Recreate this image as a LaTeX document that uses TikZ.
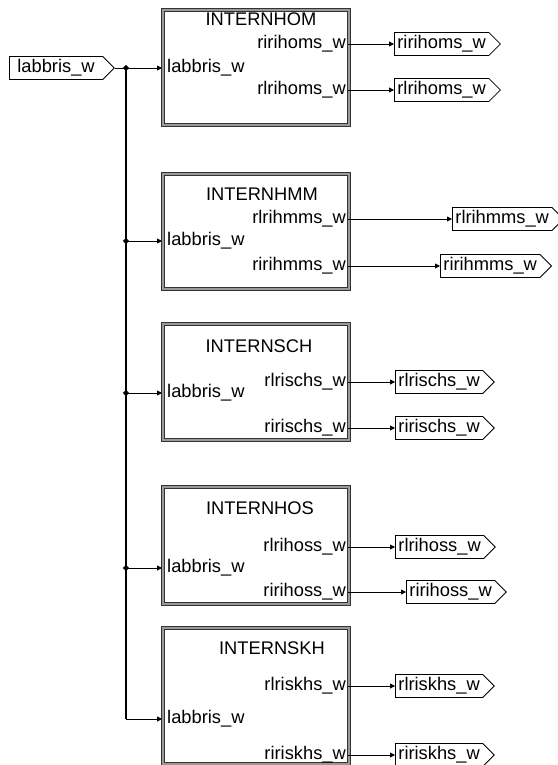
\documentclass[tikz,border=0pt]{standalone}
\usepackage{fontspec}
\setmainfont{Liberation Sans}
\usetikzlibrary{arrows.meta,shapes.symbols,shapes.geometric}
\begin{document}
\begin{tikzpicture}[x=1pt,y=-1pt,
  font=\fontsize{18.3}{21}\selectfont,
  block/.style={draw=black!40, line width=2.2pt, preaction={draw=black!80, line width=4.4pt},
    minimum width=186pt, anchor=north west, inner sep=0pt},
  sig/.style={signal, signal to=east, draw=black, line width=0.8pt, inner xsep=3pt,
    inner ysep=0pt, minimum height=23pt, anchor=west, text height=13pt, text depth=3.5pt},
  pin/.style={inner xsep=5pt, inner ysep=0pt, anchor=west, text height=13pt, text depth=3.5pt},
  pout/.style={inner xsep=2pt, inner ysep=0pt, anchor=east, text height=13pt, text depth=3.5pt},
  ttl/.style={inner sep=0pt, text height=13pt, text depth=3.5pt},
  wire/.style={line width=0.9pt, -{Triangle[length=5pt,width=5pt]}},
  plain/.style={line width=0.9pt},
  bus/.style={line width=1.8pt},
  dot/.style={diamond, fill=black, inner sep=0pt, minimum size=6.5pt}
]
\useasboundingbox (0,0) rectangle (557,765);

% blocks
\node[block, minimum height=115pt] (b1) at (162,9) {};
\node[block, minimum height=115pt] (b2) at (162,173) {};
\node[block, minimum height=116pt] (b3) at (162,323) {};
\node[block, minimum height=117pt] (b4) at (162,486) {};
\node[block, minimum height=136pt] (b5) at (162,627) {};

% titles
\node[ttl] (t1) at (261,21) {INTERNHOM};
\node[ttl] (t2) at (262,196) {INTERNHMM};
\node[ttl] (t3) at (259,348) {INTERNSCH};
\node[ttl] (t4) at (260,510) {INTERNHOS};
\node[ttl] (t5) at (272,650) {INTERNSKH};

% input port labels
\node[pin] (q1) at (162,68) {labbris\_w};
\node[pin] (q2) at (162,241) {labbris\_w};
\node[pin] (q3) at (162,393) {labbris\_w};
\node[pin] (q4) at (162,568) {labbris\_w};
\node[pin] (q5) at (162,719) {labbris\_w};

% output port labels
\node[pout] (p1a) at (348,44) {ririhoms\_w};
\node[pout] (p1b) at (348,90) {rlrihoms\_w};
\node[pout] (p2a) at (348,219) {rlrihmms\_w};
\node[pout] (p2b) at (348,266) {ririhmms\_w};
\node[pout] (p3a) at (348,382) {rlrischs\_w};
\node[pout] (p3b) at (348,428) {ririschs\_w};
\node[pout] (p4a) at (348,547) {rlrihoss\_w};
\node[pout] (p4b) at (348,592) {ririhoss\_w};
\node[pout] (p5a) at (348,686) {rlriskhs\_w};
\node[pout] (p5b) at (348,755) {ririskhs\_w};

% output signals
\node[sig] (o1a) at (394,44) {ririhoms\_w};
\node[sig] (o1b) at (394,90) {rlrihoms\_w};
\node[sig] (o2a) at (452,219) {rlrihmms\_w};
\node[sig] (o2b) at (440,266) {ririhmms\_w};
\node[sig] (o3a) at (395,382) {rlrischs\_w};
\node[sig] (o3b) at (395,428) {ririschs\_w};
\node[sig] (o4a) at (395,547) {rlrihoss\_w};
\node[sig] (o4b) at (406,592) {ririhoss\_w};
\node[sig] (o5a) at (395,686) {rlriskhs\_w};
\node[sig] (o5b) at (395,755) {ririskhs\_w};

% input signal
\node[sig, inner xsep=8pt] (in) at (9,68) {labbris\_w};

% junctions
\coordinate (j1) at (126,68);
\coordinate (j2) at (126,241);
\coordinate (j3) at (126,393);
\coordinate (j4) at (126,568);
\coordinate (c5) at (126,719);

\draw[plain] (in.east) -- (j1);
\draw[bus] (j1) -- (c5);
\draw[wire] (j1) -- (q1.west);
\draw[wire] (j2) -- (q2.west);
\draw[wire] (j3) -- (q3.west);
\draw[wire] (j4) -- (q4.west);
\draw[wire] (c5) -- (q5.west);

\node[dot] (d1) at (j1) {};
\node[dot] (d2) at (j2) {};
\node[dot] (d3) at (j3) {};
\node[dot] (d4) at (j4) {};

% outputs
\draw[wire] (p1a.east) -- (o1a.west);
\draw[wire] (p1b.east) -- (o1b.west);
\draw[wire] (p2a.east) -- (o2a.west);
\draw[wire] (p2b.east) -- (o2b.west);
\draw[wire] (p3a.east) -- (o3a.west);
\draw[wire] (p3b.east) -- (o3b.west);
\draw[wire] (p4a.east) -- (o4a.west);
\draw[wire] (p4b.east) -- (o4b.west);
\draw[wire] (p5a.east) -- (o5a.west);
\draw[wire] (p5b.east) -- (o5b.west);
\end{tikzpicture}
\end{document}
